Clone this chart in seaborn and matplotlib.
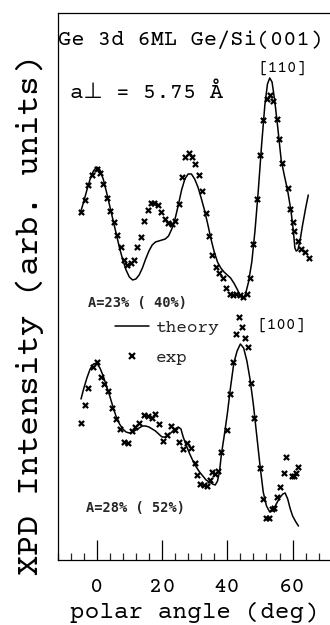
import matplotlib
matplotlib.use("Agg")
import matplotlib.pyplot as plt
from matplotlib.ticker import MultipleLocator
from matplotlib.lines import Line2D
from matplotlib import font_manager as fm
import seaborn as sns
import pandas as pd

# Ge 3d XPD polar scans, 6 ML Ge on Si(001); intensities in arbitrary units
# [110] azimuth: experiment
deg110_exp = [-4.9, -3.7, -2.6, -1.35, 0.0, 1.0, 2.0, 3.1, 4.2, 5.2, 6.2, 7.4, 8.4, 9.3,
              10.4, 11.4, 12.4, 13.5, 14.5, 15.6, 16.5, 17.5, 18.8, 19.8, 20.8, 21.8,
              23.0, 24.0, 25.1, 26.1, 27.1, 28.2, 29.2, 30.2, 31.3, 32.3, 33.4, 34.4,
              35.4, 36.5, 37.5, 38.6, 39.6, 40.7, 41.7, 42.8, 43.9, 44.9, 45.9, 46.9,
              48.0, 49.0, 50.1, 51.0, 52.1, 53.2, 54.1, 55.3, 55.7, 56.7, 58.5, 59.3,
              60.2, 60.4, 61.7, 62.7, 63.9, 65.0]
int110_exp = [348, 360, 375, 385, 391, 387, 376, 362, 349, 338, 325, 313, 300, 295,
              297, 300, 313, 323, 339, 350, 357, 357, 355, 348, 341, 337,
              336, 339, 356, 383, 403, 407, 403, 396, 385, 369, 347, 324,
              305, 293, 287, 282, 272, 266, 265, 266, 265, 263, 266, 282,
              316, 361, 405, 440, 461, 465, 459, 441, 421, 397, 372, 351,
              338, 329, 319, 311, 308, 302]

# [110] azimuth: theory
deg110_th = [-5, -4, -3, -2, -1, 0, 1, 2, 3, 4, 5, 6, 7, 8, 9, 10, 11, 12, 13, 14, 15,
             16, 17, 18, 19, 20, 21, 22, 23, 24, 25, 26, 27, 28, 29, 30, 31, 32, 33,
             34, 35, 36, 37, 38, 39, 40, 41, 42, 43, 44, 44.7, 45.5, 46.5, 47.5, 48.5,
             49.5, 50.5, 51.5, 52.3, 53.0, 53.7, 54.5, 55.5, 56.5, 57.5, 58.5, 59.5,
             60.2, 60.7, 61.1, 61.6, 62.3, 63.0, 64.0, 64.8]
int110_th = [347, 358, 370, 381, 389, 393, 390, 381, 368, 354, 340, 326, 312, 300, 290,
             283, 280, 281, 285, 292, 301, 309, 315, 318, 319, 320, 321, 324, 331, 341,
             355, 370, 381, 386, 386, 381, 373, 362, 350, 336, 321, 308, 298, 292, 288,
             285, 282, 277, 271, 264, 261, 265, 278, 298, 330, 370, 415, 455, 476, 482,
             478, 460, 431, 400, 384, 369, 349, 330, 312, 309, 310, 320, 334, 352, 365]

# [100] azimuth: experiment
deg100_exp = [-4.9, -3.7, -2.6, -1.2, 0.0, 1.2, 2.3, 3.6, 4.8, 6.0, 7.1, 8.4, 9.6, 10.8,
              11.8, 13.0, 14.5, 15.8, 16.8, 17.9, 19.2, 20.4, 21.4, 22.7, 24.0, 25.3,
              26.5, 27.7, 28.8, 30.0, 30.8, 31.7, 32.9, 33.7, 34.6, 35.4, 36.2, 37.1,
              38.0, 40.0, 40.8, 41.6, 42.7, 43.6, 44.5, 45.3, 46.2, 47.2, 48.2, 50.0,
              50.8, 51.9, 52.7, 53.8, 54.3, 55.3, 56.2, 57.3, 58.1, 59.8, 60.4, 61.0,
              61.8]
int100_exp = [137, 155, 172, 193, 198, 183, 176, 169, 152, 141, 131, 118, 117, 129,
              133, 137, 145, 144, 142, 146, 136, 119, 125, 134, 130, 118,
              111, 117, 112, 97, 85, 76, 75, 74, 80, 88, 86, 89,
              108, 130, 166, 198, 226, 243, 233, 222, 213, 177, 142, 92,
              61, 42, 42, 51, 52, 63, 73, 87, 103, 84, 84, 87,
              93]

# [100] azimuth: theory
deg100_th = [-4.8, -4, -3, -2, -1, 0, 1, 2, 3, 4, 5, 6, 7, 8, 9, 10, 11, 12, 13, 14, 15,
             16, 17, 18, 19, 20, 21, 22, 23, 24, 25, 25.8, 26.5, 27.5, 28.5, 29.5, 30.5,
             31.5, 32.5, 33.5, 34.5, 35.5, 36.3, 37.0, 37.6, 38.2, 39.0, 40.0, 41.0,
             42.0, 43.0, 44.0, 45.0, 46.0, 47.0, 48.0, 49.0, 50.0, 51.0, 52.0, 53.0,
             54.0, 55.0, 56.0, 57.0, 57.7, 58.5, 59.2, 60.0, 61.0, 61.8]
int100_th = [161, 171, 182, 191, 196, 197, 192, 184, 174, 164, 153, 143, 136, 131, 128,
             127, 128, 130, 132, 134, 134, 133, 131, 129, 126, 123, 123, 125, 128, 131,
             133, 131, 123, 114, 106, 99, 93, 88, 84, 80, 78, 76, 75, 79, 88, 106, 123,
             146, 173, 197, 209, 216, 212, 199, 180, 155, 125, 95, 68, 54, 48, 50, 56,
             62, 66, 67, 61, 52, 44, 38, 34]

xticks_major = [0, 20, 40, 60]
xtick_labels = ["0", "20", "40", "60"]

th110 = pd.DataFrame({"angle": deg110_th, "intensity": int110_th})
th100 = pd.DataFrame({"angle": deg100_th, "intensity": int100_th})
ex110 = pd.DataFrame({"angle": deg110_exp, "intensity": int110_exp})
ex100 = pd.DataFrame({"angle": deg100_exp, "intensity": int100_exp})

sns.set_theme(style="ticks")
installed = {f.name for f in fm.fontManager.ttflist}
mono = [f for f in ("Courier Prime", "Liberation Mono") if f in installed]
plt.rcParams["font.family"] = mono + ["DejaVu Sans"]

fig = plt.figure(figsize=(3.30, 6.25), dpi=100)
W, H = 330.0, 625.0
ax = fig.add_axes([57.5 / W, 65 / H, 274.3 / W, 547 / H])

for df in (th110, th100):
    sns.lineplot(data=df, x="angle", y="intensity", ax=ax, color="black",
                 linewidth=1.1, sort=False, estimator=None)
for df in (ex110, ex100):
    sns.scatterplot(data=df, x="angle", y="intensity", ax=ax, color="black",
                    marker="x", s=14, linewidth=1.6)

ax.set_xlim(-12, 72)
ax.set_ylim(0, 547)
ax.set_xticks(xticks_major)
ax.set_xticklabels(xtick_labels)
ax.xaxis.set_minor_locator(MultipleLocator(4))
ax.set_yticks([])
ax.tick_params(axis="x", which="major", direction="in", length=14.4, width=0.9,
               pad=13, labelsize=16, colors="black", bottom=True)
ax.tick_params(axis="x", which="minor", direction="in", length=5, width=0.9,
               bottom=True)
ax.tick_params(top=False, right=False, left=False)
for side in ("left", "bottom", "top", "right"):
    ax.spines[side].set_color("black")
    ax.spines[side].set_linewidth(0.9)

ax.set_xlabel("polar angle (deg)", fontsize=17.6, labelpad=4, color="black")
ax.set_ylabel("XPD Intensity (arb. units)", fontsize=24, color="black")
ax.yaxis.set_label_coords(-0.05, 0.447)

ax.text(0.0, 0.951, "Ge 3d 6ML Ge/Si(001)", transform=ax.transAxes, fontsize=15.8,
        ha="left", va="center", color="black")
ax.text(0.0456, 0.856, "a\u22a5 = 5.75 \u00c5", transform=ax.transAxes, fontsize=16,
        ha="left", va="center", color="black")
ax.text(0.731, 0.899, "[110]", transform=ax.transAxes, fontsize=11.5,
        ha="left", va="center", color="black")
ax.text(0.727, 0.4296, "[100]", transform=ax.transAxes, fontsize=11.5,
        ha="left", va="center", color="black")
ax.text(0.111, 0.47, "A=23% ( 40%)", transform=ax.transAxes, fontsize=9.8,
        fontweight="bold", family="DejaVu Sans Mono", ha="left", va="center")
ax.text(0.104, 0.095, "A=28% ( 52%)", transform=ax.transAxes, fontsize=9.8,
        fontweight="bold", family="DejaVu Sans Mono", ha="left", va="center")

handles = [Line2D([], [], color="black", linewidth=1.1),
           Line2D([], [], color="black", linestyle="none", marker="x",
                  markersize=3.7, markeredgewidth=1.6)]
ax.legend(handles, ["theory", "exp"], loc="center left",
          bbox_to_anchor=(0.209, 0.3976), frameon=False, fontsize=12.8,
          handlelength=1.9, handletextpad=0.4, labelspacing=0.82,
          borderpad=0, borderaxespad=0)

fig.savefig("out.png", dpi=100)
